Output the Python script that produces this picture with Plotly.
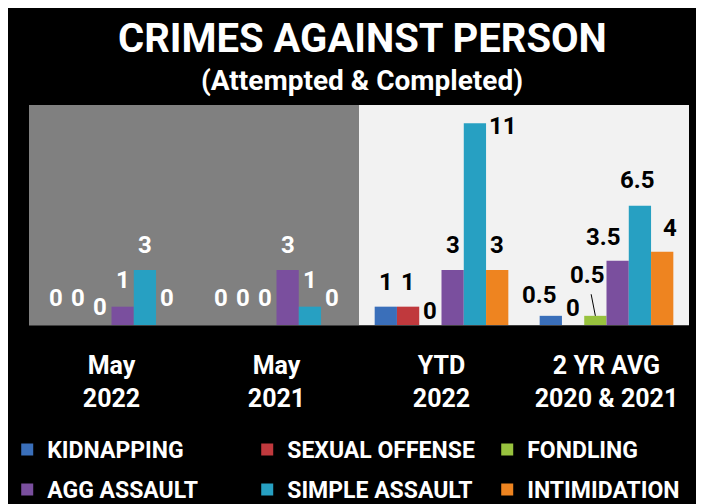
import plotly.graph_objects as go

# ---------------- data ----------------
categories = ["May<br>2022", "May<br>2021", "YTD<br>2022", "2 YR AVG<br>2020 & 2021"]
series_names = ["KIDNAPPING", "SEXUAL OFFENSE", "FONDLING",
                "AGG ASSAULT", "SIMPLE ASSAULT", "INTIMIDATION"]
kidnapping = [0, 0, 1, 0.5]
sexual_offense = [0, 0, 1, 0]
fondling = [0, 0, 0, 0.5]
agg_assault = [1, 3, 3, 3.5]
simple_assault = [3, 1, 11, 6.5]
intimidation = [0, 0, 3, 4]
series_values = [kidnapping, sexual_offense, fondling,
                 agg_assault, simple_assault, intimidation]

# ---------------- styling ----------------
colors = ["#3a6fba", "#c0393d", "#98c23e", "#7a4f9e", "#27a0c2", "#ee8420"]
label_colors = ["white", "white", "black", "black"]  # per category region
FONT = "Roboto"
BARGAP = 0.19
N = len(series_names)
bar_w = (1 - BARGAP) / N

# label offsets (pixels): dx, dy (label centre above bar top)
label_dx = [
    [0, 0, 0, -11],
    [0, 0, 0, 0],
    [0, 0, 0, -8],
    [0, 0, 0, -14],
    [0, 0, 28, -2],
    [0, 0, 0, 8],
]
label_dy = [
    [27, 27, 25, 21],
    [27, 27, 25, 17],
    [18, 27, 14, 41],
    [27, 25, 25, 24],
    [25, 27, -3, 26],
    [27, 27, 25, 24],
]
leader = (2, 3)  # (series, category) label with a leader line

xs = list(range(len(categories)))

fig = go.Figure()
for i, (name, vals) in enumerate(zip(series_names, series_values)):
    fig.add_trace(go.Bar(
        x=xs, y=vals, name=name,
        marker=dict(color=colors[i], line=dict(width=0)),
        legend="legend" if i < 3 else "legend2",
        legendwidth=150 if i % 3 == 2 else None,
        hoverinfo="skip",
    ))

annotations = []
for i, vals in enumerate(series_values):
    for j, v in enumerate(vals):
        xpos = j + (i - (N - 1) / 2) * bar_w
        txt = f"{v:g}"
        font = dict(family=FONT, size=24, color=label_colors[j], weight="bold")
        if (i, j) == leader:
            annotations.append(dict(
                x=xpos, y=v, xref="x", yref="y", text=txt, font=font,
                showarrow=True, arrowhead=0, arrowwidth=1, arrowcolor="black",
                ax=label_dx[i][j], ay=-label_dy[i][j], standoff=0, startstandoff=4,
            ))
        else:
            annotations.append(dict(
                x=xpos, y=v, xref="x", yref="y", text=txt, font=font,
                showarrow=False, xanchor="center", yanchor="middle",
                xshift=label_dx[i][j], yshift=label_dy[i][j],
            ))

# titles
annotations.append(dict(
    x=0.505, y=1.30, xref="paper", yref="paper", showarrow=False,
    text="CRIMES AGAINST PERSON", xanchor="center", yanchor="middle",
    font=dict(family=FONT, size=40, color="white", weight="bold")))
annotations.append(dict(
    x=0.505, y=1.11, xref="paper", yref="paper", showarrow=False,
    text="(Attempted &amp; Completed)", xanchor="center", yanchor="middle",
    font=dict(family=FONT, size=28, color="white", weight="bold")))

shapes = [
    dict(type="rect", xref="x", yref="paper", x0=-0.5, x1=1.5, y0=0, y1=1,
         fillcolor="#808080", line=dict(width=0), layer="below"),
    dict(type="rect", xref="x", yref="paper", x0=1.5, x1=3.5, y0=0, y1=1,
         fillcolor="#f2f2f2", line=dict(width=0), layer="below"),
]

legend_common = dict(
    orientation="h", xanchor="left", yanchor="middle",
    x=-0.033, entrywidth=195, entrywidthmode="pixels",
    font=dict(family=FONT, size=23, color="white", weight="bold"),
    bgcolor="rgba(0,0,0,0)", itemclick=False, itemdoubleclick=False,
)

fig.update_layout(
    width=704, height=504,
    margin=dict(l=21, r=23, t=97, b=187, autoexpand=False),
    paper_bgcolor="black", plot_bgcolor="black",
    barmode="group", bargap=BARGAP, bargroupgap=0,
    showlegend=True,
    legend=dict(y=(325 - 449.5) / 220, **legend_common),
    legend2=dict(y=(325 - 489.5) / 220, **legend_common),
    xaxis=dict(range=[-0.5, 3.5], tickvals=xs, ticktext=categories,
               showgrid=False, zeroline=False, showline=True,
               linecolor="#404040", linewidth=1, ticks="",
               ticklabelstandoff=18,
               tickfont=dict(family=FONT, size=25, color="white", weight="bold")),
    yaxis=dict(range=[0, 12], visible=False, showgrid=False, zeroline=False),
    annotations=annotations,
    shapes=shapes,
)

fig.write_html("out.html")
